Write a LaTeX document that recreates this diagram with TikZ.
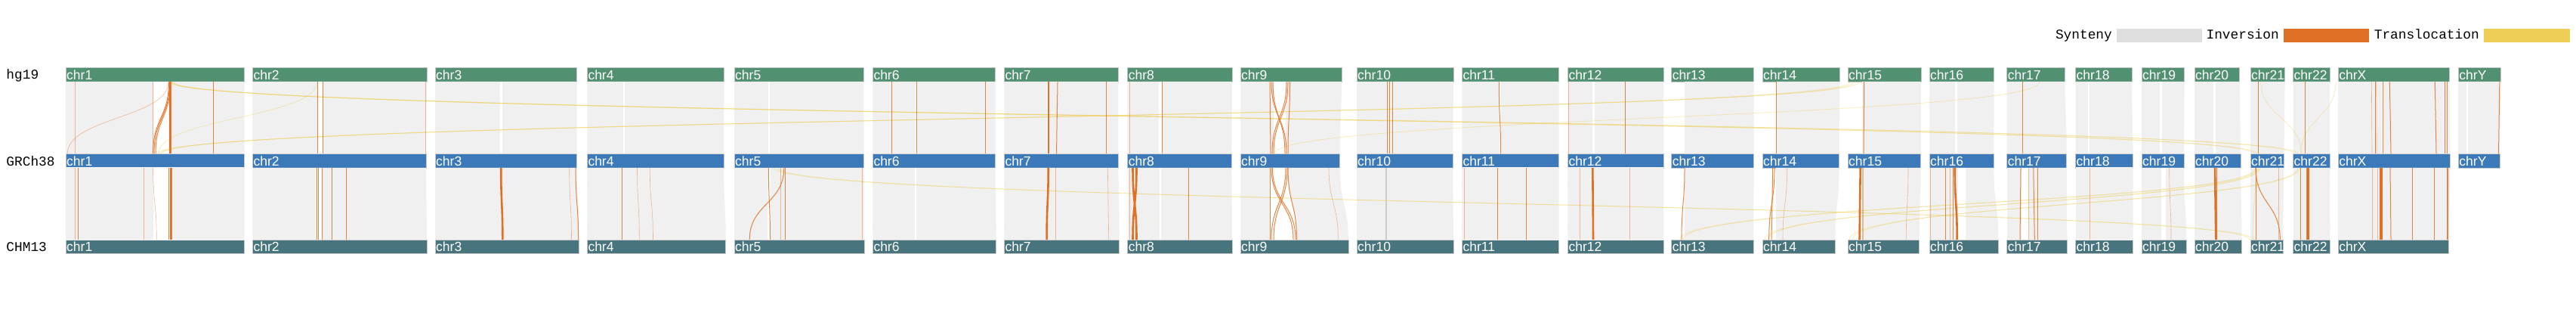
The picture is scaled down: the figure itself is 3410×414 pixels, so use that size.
\documentclass[tikz,border=0pt]{standalone}
\usepackage{fontspec}
\setmainfont{Liberation Sans}
\setmonofont{Liberation Mono}
\usetikzlibrary{calc}
\definecolor{hgcol}{RGB}{82,144,114}
\definecolor{grcol}{RGB}{60,121,185}
\definecolor{chmcol}{RGB}{72,116,126}
\definecolor{syncol}{RGB}{240,240,240}
\definecolor{invcol}{RGB}{224,113,36}
\definecolor{trcol}{RGB}{238,206,86}
\definecolor{legsyn}{RGB}{223,223,224}

\begin{document}
\begin{tikzpicture}[x=1pt,y=-1pt,
  bar/.style={draw=black!22,line width=0.6pt,minimum height=18.7pt,inner sep=0pt,outer sep=0pt,anchor=north west},
  chrname/.style={text=white,font=\fontsize{17.5}{18}\selectfont,inner sep=0pt,anchor=base west},
  rowname/.style={font=\ttfamily\fontsize{17.8}{18}\selectfont,inner sep=0pt,anchor=base west},
  legbox/.style={minimum width=113.3pt,minimum height=18pt,inner sep=0pt,anchor=north west},
  syn/.style={fill=syncol},
  texture/.style={draw=black!6,dash pattern=on 1.2pt off 1.8pt},
  inv/.style={draw=invcol,line width=1pt,opacity=.85},
  invf/.style={draw=invcol,line width=.6pt,opacity=.45},
  invw/.style={draw=invcol,line width=2.6pt},
  tra/.style={draw=trcol,line width=.9pt,opacity=.35}]
  \useasboundingbox (0,0) rectangle (3410,414);
  \coordinate (m1) at (0,155.8);
  \coordinate (m2) at (0,269.5);

  % legend
  \node[rowname,anchor=base east] (tsyn) at (2796,51.7) {Synteny};
  \node[legbox,fill=legsyn] (ksyn) at (2801.3,37.7) {};
  \node[rowname,anchor=base west] (tinv) at (2920.4,51.7) {Inversion};
  \node[legbox,fill=invcol] (kinv) at (3022.8,37.7) {};
  \node[rowname,anchor=base west] (ttra) at (3142.6,51.7) {Translocation};
  \node[legbox,fill=trcol] (ktra) at (3288.2,37.7) {};

  % genomes
  \node[rowname] (hg) at (8.3,104.3) {hg19};
  \node[rowname] (gr) at (8.3,219.3) {GRCh38};
  \node[rowname] (chm) at (8.3,332.3) {CHM13};

  % chromosomes: name/start/end hg19/end GRCh38/end CHM13/p-arm gap
  \foreach \n/\x/\a/\b/\c/\p in {chr1/87/323.6/323.6/323.6/0,
      chr2/334.4/565/564/565/0, chr3/576/763.7/763.7/766.3/0,
      chr4/777.3/958.7/958/960.7/0, chr5/972/1143.3/1143.7/1144.3/0,
      chr6/1155.3/1317.7/1317.7/1318.7/0, chr7/1329.3/1480.3/1480.3/1481.7/0,
      chr8/1492.7/1631/1630.4/1631/0, chr9/1642/1775.9/1773.6/1784.8/0,
      chr10/1796/1924/1923.2/1924/0, chr11/1935.3/2063.7/2063.5/2063.5/0,
      chr12/2075.3/2202/2202/2202/0, chr13/2212.7/2321.7/2321.7/2321/17.5,
      chr14/2333/2435/2434.5/2429.5/18, chr15/2446/2543/2542.7/2540.7/19,
      chr16/2554/2639.7/2639.3/2645.3/0, chr17/2656.7/2733.7/2735.7/2736.3/0,
      chr18/2747.5/2821.8/2823.7/2823.7/0, chr19/2835/2891.6/2891/2894/0,
      chr20/2905/2964.7/2966/2967.7/0, chr21/2979/3024.6/3023.5/3021.8/0,
      chr22/3035.5/3084.2/3084/3084.3/0, chrX/3095.2/3242.6/3243.5/3241.6/0} {
    \pgfmathsetmacro\wa{\a-\x}
    \pgfmathsetmacro\wb{\b-\x}
    \pgfmathsetmacro\wc{\c-\x}
    \node[bar,fill=hgcol,minimum width=\wa pt] (h\n) at (\x,89.3) {};
    \node[bar,fill=grcol,minimum width=\wb pt] (g\n) at (\x,203.3) {};
    \node[bar,fill=chmcol,minimum width=\wc pt] (c\n) at (\x,317) {};
    \node[chrname] at ($(h\n.south west)+(1,-2.4)$) {\n};
    \node[chrname] at ($(g\n.south west)+(1,-2.6)$) {\n};
    \node[chrname] at ($(c\n.south west)+(1,-3.4)$) {\n};
    \fill[syn] ($(h\n.south west)+(\p,0)$) -- (h\n.south east)
      .. controls (h\n.south east |- m1) and (g\n.north east |- m1) .. (g\n.north east)
      -- ($(g\n.north west)+(\p,0)$) -- cycle;
    \begin{scope}
      \clip ($(g\n.south west)+(\p,0)$) -- (g\n.south east)
        .. controls (g\n.south east |- m2) and (c\n.north east |- m2) .. (c\n.north east)
        -- ($(c\n.north west)+(\p,0)$) -- cycle;
      \fill[syn] (\x,221) rectangle (3300,318);
      \draw[texture,line width=1.6pt] (\x,231) -- (3300,231);
      \draw[texture,line width=7pt] (\x,243) -- (3300,243);
      \draw[texture,line width=7pt] (\x,299) -- (3300,299);
    \end{scope}
  }
  \node[bar,fill=hgcol,minimum width=56.5pt] (hchrY) at (3254.2,89.3) {};
  \node[bar,fill=grcol,minimum width=54.6pt] (gchrY) at (3254.2,203.3) {};
  \node[chrname] at ($(hchrY.south west)+(1,-2.4)$) {chrY};
  \node[chrname] at ($(gchrY.south west)+(1,-2.6)$) {chrY};
  \fill[syn] (hchrY.south west) -- (hchrY.south east)
    .. controls (hchrY.south east |- m1) and (gchrY.north east |- m1) .. (gchrY.north east)
    -- (gchrY.north west) -- cycle;

  % gaps
  \foreach \l/\r in {202.7/222.7, 420.5/427, 662.3/665, 825/827.3, 1016.7/1018.5,
      1211.7/1213.5, 1386/1388.5, 1533.5/1538, 1686/1702, 1985/1986.5, 2107.5/2110.5,
      2587.5/2590.5, 2764/2766, 2858.5/2861.5, 2929.5/2932.5, 3152.5/3154.5, 3264.5/3267}
    \fill[white] (\l,108.3) rectangle (\r,203.3);
  \foreach \l/\r in {203.3/224, 420/427, 1016/1020, 1211/1212.5, 1534.8/1537,
      2591.7/2601.7, 2676/2686, 2860.7/2866.7}
    \fill[white] (\l,222) rectangle (\r,317);
  \fill[white] (1681,222) -- (1704,222) .. controls (1704,269.5) and (1716,269.5) .. (1716,317)
    -- (1682,317) -- cycle;
  \draw[black!20,line width=1.2pt] (1835,222) -- (1835,317);

  % translocations
  \foreach \t/\u in {225/2984, 226/2988, 227.5/3037, 228.5/3042, 420/210, 2449/209,
      2455/212, 2461/214, 2700/1687, 3092/3046, 2993/3046}
    \draw[tra] (\t,108.3) .. controls (\t,155.8) and (\u,155.8) .. (\u,203.3);
  \foreach \t/\u in {2986/2224, 2988/2228, 2990/2336, 2992/2340, 3042/2448, 3044/2452,
      1025/2978, 1030/2983, 2986/2982}
    \draw[tra] (\t,222) .. controls (\t,269.5) and (\u,269.5) .. (\u,317);

  % inversions hg19 -> GRCh38
  \foreach \t/\u in {223.5/202.5, 224.5/204, 225.5/206, 226.5/226.5, 282.7/282.7,
      420.5/420.5, 427/427, 1180.3/1180.3, 1213.3/1213.3, 1304.3/1304.3, 1400/1398.5,
      1464.3/1464.3, 1538.3/1538.3, 1681/1682, 1707.5/1705, 1683/1703, 1685/1701,
      1703/1684, 1705/1686, 1836/1836, 1839.5/1839.5, 1843/1843,
      1984.3/1986.6, 2151.7/2151.7, 2351.7/2351.7, 2467.7/2467, 2677.3/2677.3,
      2989.3/2989.3, 3051/3051, 3144.3/3144.3, 3154.3/3154.3, 3163.3/3165,
      3223.3/3225, 3236.7/3236.7, 3239.3/3239.3, 3308.8/3307.5}
    \draw[inv] (\t,108.3) .. controls (\t,155.8) and (\u,155.8) .. (\u,203.3);
  \foreach \t/\u in {223/89.3, 99.3/99.3, 202/202, 563/563, 1495/1495, 2075.8/2075.8,
      3139.3/3140, 3145.7/3146}
    \draw[invf] (\t,108.3) .. controls (\t,155.8) and (\u,155.8) .. (\u,203.3);
  \foreach \t/\u in {225/225, 1387.7/1387.7}
    \draw[invw,line width=1.8pt] (\t,108.3) .. controls (\t,155.8) and (\u,155.8) .. (\u,203.3);

  % inversions GRCh38 -> CHM13
  \foreach \t/\u in {103.3/103.3, 223.6/223.6, 227.5/227.5, 419.8/419.8, 421.9/421.9,
      426.8/426.8, 439.4/439.4, 458.3/458.3, 762/765.6, 823.8/823.8, 1017.4/1019.5,
      1037.8/992.2, 1039.2/1039.2, 1573.6/1573.6, 1681/1681, 1683/1712, 1684.5/1715,
      1702/1683, 1704/1686, 1705/1716.5, 1982.6/1982.6, 2020.4/2020.4, 2230/2226,
      2349/2341.7, 2346.7/2345, 2575/2575, 2585.7/2585.7, 2675/2674, 2691.7/2693.3,
      2697.3/2697.3, 2934.3/2934.3, 2986/2986, 2986/3018.3, 3045.7/3045.7,
      3053.3/3053.3, 3164/3165, 3193.3/3193.3, 3222.7/3222.7, 3239.3/3239.3,
      3240.7/3240.7}
    \draw[inv] (\t,222) .. controls (\t,269.5) and (\u,269.5) .. (\u,317);
  \foreach \t/\u in {99.3/99.3, 190.7/190.7, 202.7/207.3, 753.7/756.5, 843.5/846.3,
      860.3/864.5, 1033.6/1033.6, 1141.5/1141.5, 1396.8/1396.8, 1466.3/1467.7,
      1495/1495, 1759/1771.4, 1938.4/1938.4, 2091/2091, 2157.3/2157.3, 2365.7/2360,
      2465/2465, 2466.7/2466.7, 2526/2523.3, 2555/2555, 2581.7/2581.7, 2685.7/2685.7,
      2766.7/2766.7, 2871.7/2874, 3016.7/3016.7, 3140/3140, 3147/3147}
    \draw[invf] (\t,222) .. controls (\t,269.5) and (\u,269.5) .. (\u,317);
  \foreach \t/\u in {225.8/225.8, 663.2/665.3, 1387.7/1385.6, 1499.5/1504.5,
      1504.5/1499.5, 2108.3/2109, 2462.7/2461.5, 2587.7/2590.7, 2932/2933.3,
      3055.7/3055.7}
    \draw[invw] (\t,222) .. controls (\t,269.5) and (\u,269.5) .. (\u,317);
  \draw[invw,line width=4pt] (3152.3,222) -- (3152.3,317);
\end{tikzpicture}
\end{document}
